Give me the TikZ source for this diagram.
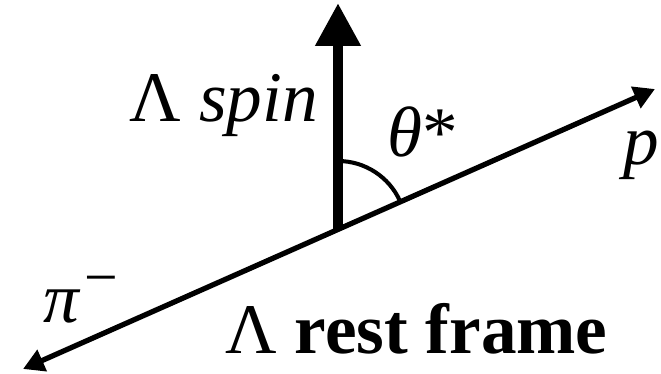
\documentclass[tikz,border=0pt]{standalone}
\usepackage{fontspec}
\setmainfont{Liberation Serif}[ItalicFont={Liberation Serif Italic},BoldFont={Liberation Serif Bold}]
\usepackage{tikz}
\usetikzlibrary{arrows.meta}

\begin{document}
\begin{tikzpicture}[
  lbl/.style={inner sep=0pt,font=\fontsize{40.5}{48}\selectfont},
  s/.style={-{Triangle[length=8.6mm,width=8.6mm]},line width=6pt},
  d/.style={{Triangle[length=4.2mm,width=4.5mm]}-{Triangle[length=4.2mm,width=4.5mm]},line width=3pt},
  ang/.style={line width=2.3pt}
]
  \useasboundingbox (0,0) rectangle (13.22,7.48);
  \coordinate (o) at (6.76,2.90);
  \coordinate (spintip) at (6.76,7.42);
  \coordinate (pend) at (13.10,5.70);
  \coordinate (piend) at (0.46,0.10);
  \draw[d] (piend) -- (pend);
  \draw[s] (o) -- (spintip);
  \draw[ang] ([shift={(23.9:1.36)}]o) arc[start angle=23.9,end angle=90,radius=1.36];
  \node[lbl,anchor=base east] (spin) at (6.36,5.04) {Λ \textit{spin}};
  \node[lbl,anchor=base west] (theta) at (7.74,4.34) {\textit{θ}*};
  \node[lbl,anchor=base west] (p) at (12.46,4.18) {\textit{p}};
  \node[lbl,anchor=base west] (pi) at (0.86,1.02)
    {\textit{π}\kern0.05em\raisebox{0.36em}{\fontsize{34}{40}\selectfont −}};
  \node[lbl,anchor=base west] (frame) at (4.50,0.40) {Λ \textbf{rest frame}};
\end{tikzpicture}
\end{document}
